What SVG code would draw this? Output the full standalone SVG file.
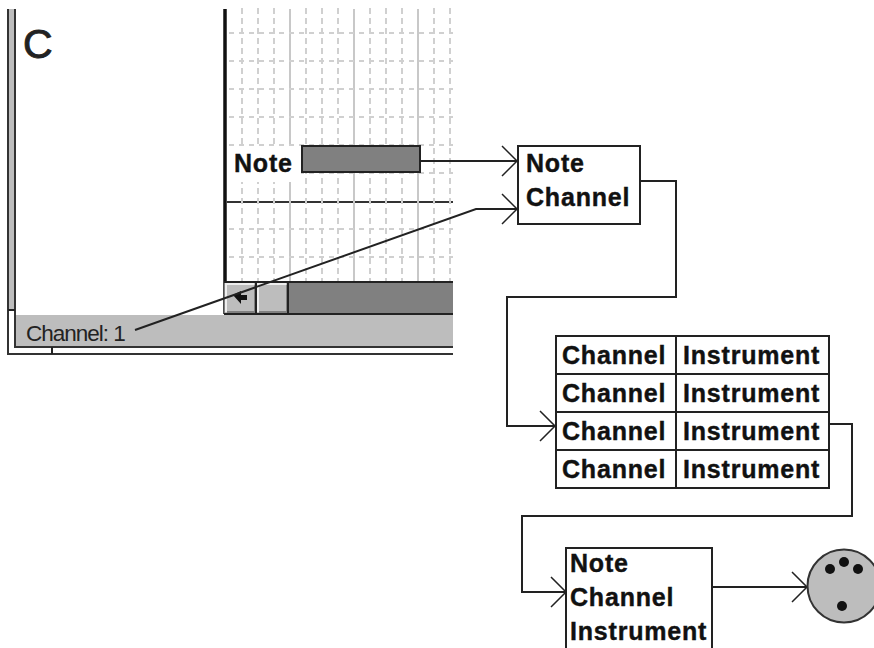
<svg xmlns="http://www.w3.org/2000/svg" width="874" height="648" viewBox="0 0 874 648">
<defs>
<style>
.l{fill:none;stroke:#222;stroke-width:2}
.b{fill:#fff;stroke:#222;stroke-width:2}
.t{font-family:"Liberation Sans",Arial,sans-serif;font-weight:bold;font-size:25px;letter-spacing:.8px;fill:#111;stroke:#111;stroke-width:.4}
.r{font-family:"Liberation Sans",Arial,sans-serif;fill:#222}
.gs{stroke:#c8c8c8;stroke-width:2;fill:none}
.gd{stroke:#d0d0d0;stroke-width:2;fill:none;stroke-dasharray:6 4}
.gh{stroke:#d0d0d0;stroke-width:2;fill:none;stroke-dasharray:5 5}
.d{fill:#111}
</style>
<marker id="open" markerUnits="userSpaceOnUse" markerWidth="18" markerHeight="34" refX="16" refY="17" orient="auto" viewBox="0 0 18 34">
<path d="M1 2L16 17L1 32" fill="none" stroke="#222" stroke-width="1.5"/>
</marker>
</defs>
<rect width="874" height="648" fill="#fff"/>
<g id="window">
<rect x="8" y="9" width="6" height="301" fill="#bdbdbd"/>
<path d="M8 9V354H453M15 9V347H453" fill="none" stroke="#333" stroke-width="2"/>
<path d="M8 310H15M52 347V354" stroke="#222" stroke-width="2"/>
<rect x="16" y="315" width="437" height="31" fill="#bdbdbd"/>
<text class="r" x="23" y="58" font-size="41" stroke="#222" stroke-width=".9">C</text>
<text class="r" x="26" y="341" font-size="22.5" letter-spacing="-1">Channel: 1</text>
</g>
<g id="grid">
<path class="gs" d="M290 9V145M290 182V281M354 9V145M354 172V281M418 9V145M418 172V281"/>
<path class="gd" d="M242 8V281M258 8V281M274 8V281M306 8V281M322 8V281M338 8V281M370 8V281M386 8V281M402 8V281M434 8V281M450 8V281"/>
<path class="gh" d="M229 33H453M229 61H453M229 89H453M229 117H453M229 145H453M229 173H453M229 229H453M229 257H453"/>
<path d="M227 202H453" stroke="#333" stroke-width="2" stroke-dasharray="14 2"/>
<rect x="227" y="147" width="74" height="35" fill="#fff"/>
<rect x="302" y="146" width="118" height="26" fill="#808080" stroke="#222" stroke-width="2"/>
<text class="t" x="234" y="172">Note</text>
<path d="M225 9V314" stroke="#111" stroke-width="3.5"/>
</g>
<g id="scrollbar">
<rect x="224" y="282" width="229" height="32" fill="#808080"/>
<rect x="225" y="283" width="31" height="30" fill="#bdbdbd"/>
<rect x="257" y="283" width="31" height="30" fill="#bdbdbd"/>
<path d="M226 312V284H254M258 312V284H286" fill="none" stroke="#eee" stroke-width="2"/>
<path d="M227 312H255V285M259 312H287V285" fill="none" stroke="#808080" stroke-width="2"/>
<path d="M224 282H453M224 314H453M256 282V314M288 282V314" fill="none" stroke="#222" stroke-width="2"/>
<path class="d" d="M233 295L241 291V295H247V300H241V304Z"/>
</g>
<g id="connectors">
<path class="l" d="M420 161H517" marker-end="url(#open)"/>
<path class="l" d="M135 330L476 209H517" marker-end="url(#open)"/>
<path class="l" d="M640 181H676V297H507V426H555" marker-end="url(#open)"/>
<path class="l" d="M829 424H852V516H522V592H566" marker-end="url(#open)"/>
<path class="l" d="M712 587H807" marker-end="url(#open)"/>
</g>
<g id="node-note-channel">
<rect class="b" x="518" y="146" width="122" height="78"/>
<text class="t" x="526" y="172">Note</text>
<text class="t" x="526" y="206">Channel</text>
</g>
<g id="node-table">
<path class="l" d="M556 336H829V488H556ZM556 374H829M556 412H829M556 450H829M676 336V488"/>
<text class="t" x="562" y="364">Channel</text><text class="t" x="683" y="364">Instrument</text>
<text class="t" x="562" y="402">Channel</text><text class="t" x="683" y="402">Instrument</text>
<text class="t" x="562" y="440">Channel</text><text class="t" x="683" y="440">Instrument</text>
<text class="t" x="562" y="478">Channel</text><text class="t" x="683" y="478">Instrument</text>
</g>
<g id="node-output">
<path class="b" d="M566 650V548H712V650"/>
<text class="t" x="570" y="572">Note</text>
<text class="t" x="570" y="606">Channel</text>
<text class="t" x="570" y="640">Instrument</text>
</g>
<g id="node-connector">
<circle cx="844" cy="586" r="36.5" fill="#bdbdbd" stroke="#333" stroke-width="2"/>
<circle class="d" cx="830" cy="569" r="5"/>
<circle class="d" cx="844" cy="562" r="5"/>
<circle class="d" cx="858" cy="569" r="5"/>
<circle class="d" cx="842" cy="606" r="5"/>
</g>
</svg>
